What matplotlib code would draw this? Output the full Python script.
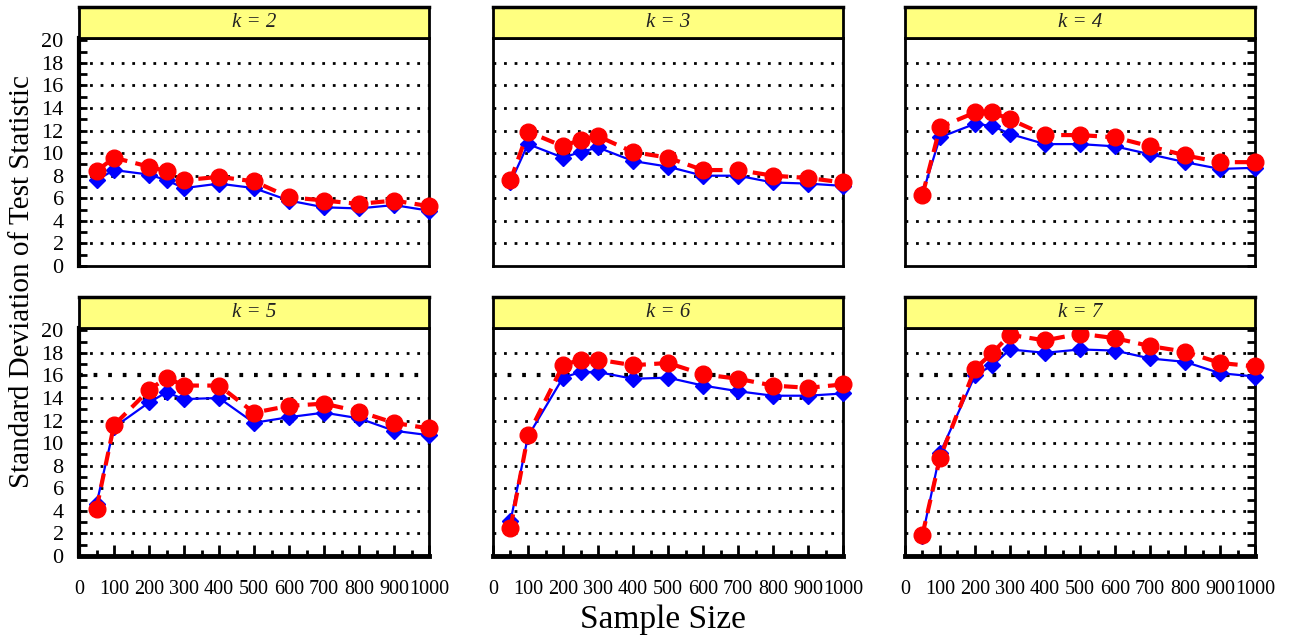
import matplotlib
matplotlib.use("Agg")
import matplotlib.pyplot as plt
import numpy as np

plt.rcParams['font.family'] = ['Liberation Serif', 'DejaVu Serif']

# sample sizes shared by every panel
sample_size = [50, 100, 200, 250, 300, 400, 500, 600, 700, 800, 900, 1000]
k_values = [2, 3, 4, 5, 6, 7]

# standard deviation of the test statistic, two series per k
sd_blue = {
    2: [7.6, 8.5, 8.1, 7.6, 6.9, 7.3, 6.9, 5.8, 5.2, 5.1, 5.4, 4.9],
    3: [7.4, 10.8, 9.6, 10.1, 10.5, 9.3, 8.8, 8.0, 8.0, 7.4, 7.3, 7.1],
    4: [6.4, 11.4, 12.6, 12.4, 11.7, 10.8, 10.8, 10.6, 9.9, 9.2, 8.6, 8.7],
    5: [4.6, 11.4, 13.6, 14.5, 13.9, 14.0, 11.8, 12.3, 12.7, 12.2, 11.1, 10.7],
    6: [3.1, 10.6, 15.8, 16.3, 16.3, 15.7, 15.8, 15.1, 14.6, 14.2, 14.2, 14.4],
    7: [1.8, 9.1, 16.0, 16.9, 18.3, 18.0, 18.3, 18.2, 17.5, 17.2, 16.2, 15.9],
}
sd_red = {
    2: [8.4, 9.6, 8.8, 8.4, 7.6, 7.9, 7.5, 6.1, 5.8, 5.5, 5.8, 5.3],
    3: [7.6, 11.9, 10.6, 11.2, 11.5, 10.1, 9.6, 8.5, 8.5, 8.0, 7.8, 7.4],
    4: [6.3, 12.3, 13.6, 13.6, 13.0, 11.6, 11.6, 11.4, 10.6, 9.8, 9.2, 9.2],
    5: [4.2, 11.6, 14.7, 15.8, 15.1, 15.1, 12.7, 13.3, 13.5, 12.8, 11.8, 11.3],
    6: [2.5, 10.7, 16.9, 17.4, 17.4, 16.9, 17.1, 16.1, 15.7, 15.1, 14.9, 15.2],
    7: [1.9, 8.7, 16.6, 18.0, 19.6, 19.1, 19.7, 19.3, 18.6, 18.1, 17.1, 16.8],
}

W, H = 1289, 641
fig = plt.figure(figsize=(W / 100, H / 100), dpi=100)

col_left = [79, 493, 905]
col_w = 350
row_top = [38, 328]      # top of plotting region (px from top)
row_h = [228, 228]
strip_h = 31

def px_rect(x, y_top, w, h):
    return [x / W, 1 - (y_top + h) / H, w / W, h / H]

for i, k in enumerate(k_values):
    r, c = divmod(i, 3)
    ax = fig.add_axes(px_rect(col_left[c], row_top[r], col_w, row_h[r]))
    sax = fig.add_axes(px_rect(col_left[c], row_top[r] - strip_h, col_w, strip_h))

    # strip header
    sax.set_facecolor('#ffff80')
    sax.set_xticks([])
    sax.set_yticks([])
    for sp in sax.spines.values():
        sp.set_linewidth(2)
    sax.spines['top'].set_linewidth(2.5)
    sax.text(0.5, 0.5, f'k = {k}', transform=sax.transAxes, ha='center',
             va='center', fontsize=15, style='italic', color='#222222')

    # dotted reference lines
    for g in range(2, 20, 2):
        heavy = (r == 1 and g == 16)
        ax.axhline(g, color='black', lw=3.0 if heavy else 2.0,
                   linestyle=(0, (0.9, 2.6)) if heavy else (0, (1.0, 2.8)),
                   zorder=1)

    ax.plot(sample_size, sd_blue[k], color='blue', lw=1.6, marker='D',
            ms=8.5, zorder=3, clip_on=False)
    ax.plot(sample_size, sd_red[k], color='red', lw=3, dashes=(3.3, 2),
            marker='o', ms=12, zorder=4, clip_on=False)

    ax.set_xlim(0, 1000)
    ax.set_ylim(0, 20.2)
    for sp in ax.spines.values():
        sp.set_linewidth(2)

    ax.set_yticks(np.arange(0, 21, 2))
    ax.set_yticks(np.arange(0, 21, 1), minor=True)
    ax.set_xticks(np.arange(0, 1001, 100))
    ax.set_xticks(np.arange(0, 1001, 50), minor=True)

    ax.tick_params(axis='both', which='both', direction='in', width=2,
                   left=(c == 0), right=(c == 2), bottom=(r == 1), top=False,
                   labelleft=(c == 0), labelbottom=(r == 1), labelsize=16)
    ax.tick_params(axis='x', labelsize=14.5)
    ax.tick_params(axis='y', which='both', length=6, pad=11)
    ax.tick_params(axis='x', which='major', length=8, pad=17)
    ax.tick_params(axis='x', which='minor', length=4)
    if c == 0:
        ax.spines['left'].set_linewidth(3)
    if r == 1:
        ax.spines['bottom'].set_linewidth(3.5)

fig.text(663 / W, 1 - 620 / H, 'Sample Size', ha='center', va='center',
         fontsize=24)
fig.text(22 / W, 1 - 282 / H, 'Standard Deviation of Test Statistic',
         ha='center', va='center', rotation=90, fontsize=21)

fig.savefig('out.png', dpi=100)
